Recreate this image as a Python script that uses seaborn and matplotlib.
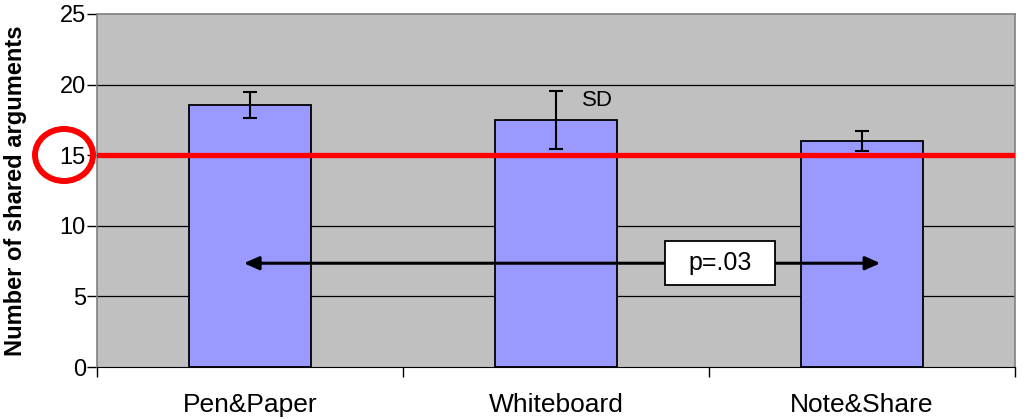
from matplotlib import pyplot as plt
from matplotlib.patches import Ellipse, Rectangle
import seaborn as sns

# values
conditions = ["Pen&Paper", "Whiteboard", "Note&Share"]
mean_args = [18.55, 17.5, 16.0]
sd_args = [0.95, 2.05, 0.7]
y_ticks = [0, 5, 10, 15, 20, 25]
threshold = 15
p_label = "p=.03"

sns.set_style("white")
plt.rcParams["font.family"] = ["Liberation Sans", "DejaVu Sans"]
plt.rcParams["text.color"] = "black"
plt.rcParams["axes.labelcolor"] = "black"
plt.rcParams["xtick.color"] = "black"
plt.rcParams["ytick.color"] = "black"

fig = plt.figure(figsize=(10.29, 4.19), dpi=100)
ax = fig.add_axes([97 / 1029, 52 / 419, 918 / 1029, 353 / 419])
ax.set_facecolor("#C0C0C0")

sns.barplot(x=conditions, y=mean_args, width=0.4, color="#9999FF",
            edgecolor="black", linewidth=1.3, saturation=1, ax=ax, zorder=3)
ax.errorbar(range(len(conditions)), mean_args, yerr=sd_args, fmt="none",
            ecolor="black", elinewidth=1.5, capsize=5, capthick=1.5, zorder=4)

ax.set_xlim(-0.5, 2.5)
ax.set_ylim(0, 25)
ax.set_yticks(y_ticks)
for v in y_ticks[1:-1]:
    ax.axhline(v, color="black", lw=0.9, zorder=1)

# threshold line and ring around its tick label
ax.axhline(threshold, color="#FF0000", lw=3.8, zorder=5)
ring = Ellipse((64, 419 - 155), 58, 52, transform=None, fill=False,
               edgecolor="#FF0000", lw=4.3, clip_on=False)
fig.add_artist(ring)

# category ticks at the boundaries, labels in the middle
ax.set_xticks([-0.5, 0.5, 1.5, 2.5])
ax.set_xticklabels([])
ax.set_xticks([0, 1, 2], minor=True)
ax.set_xticklabels(conditions, minor=True, fontsize=19)
ax.tick_params(axis="x", which="major", direction="out", length=7,
               width=1, color="black", bottom=True)
ax.tick_params(axis="x", which="minor", length=0, pad=19)
ax.tick_params(axis="y", direction="out", length=7, width=1, color="black",
               left=True, labelsize=17, pad=1)

for side in ["left", "right", "top"]:
    ax.spines[side].set_color("#808080")
    ax.spines[side].set_linewidth(1.2)
ax.spines["bottom"].set_color("black")

ax.set_xlabel("")
ax.set_ylabel("Number of shared arguments", fontsize=17, fontweight="bold")
ax.yaxis.set_label_coords(-0.076, 0.5)

ax.annotate("", xy=(2.06, 7.35), xytext=(-0.02, 7.35),
            arrowprops=dict(arrowstyle="<|-|>,head_length=0.9,head_width=0.4",
                            color="black", lw=2.2, shrinkA=0, shrinkB=0),
            zorder=6)
ax.add_patch(Rectangle((1.536 - 0.18, 7.35 - 1.56), 0.36, 3.12,
                       facecolor="white", edgecolor="black", lw=1.3, zorder=7))
ax.text(1.536, 7.35, p_label, ha="center", va="center", fontsize=18, zorder=8)
ax.text(1.135, 18.85, "SD", ha="center", va="center", fontsize=16, zorder=7)

plt.savefig("out.png", dpi=100)
